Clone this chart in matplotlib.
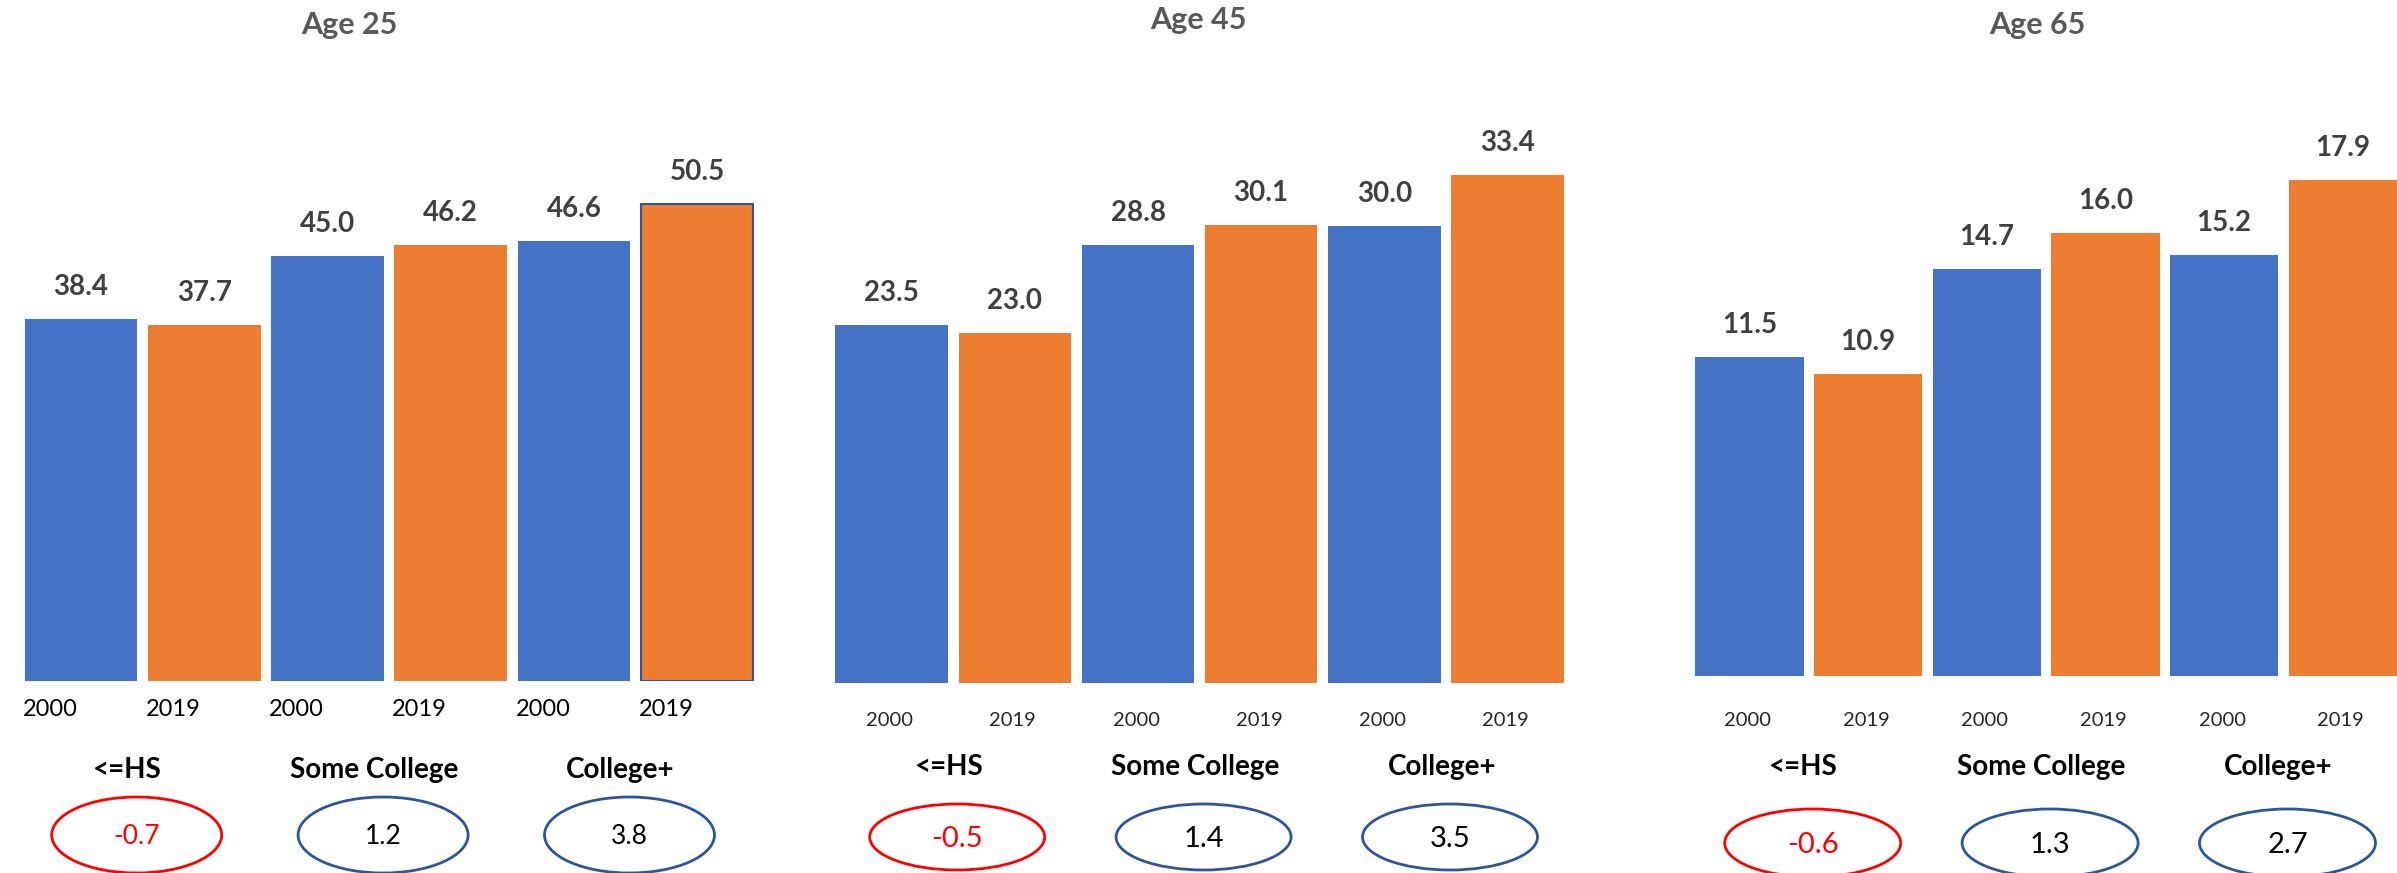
import matplotlib
matplotlib.use("Agg")
import matplotlib.pyplot as plt
import matplotlib.transforms as mtransforms
from matplotlib.patches import Ellipse

plt.rcParams["font.family"] = ["Lato", "DejaVu Sans"]

W, H, DPI = 2397, 873, 100

age_titles = ["Age 25", "Age 45", "Age 65"]
education = ["<=HS", "Some College", "College+"]
years = ["2000", "2019"]

age25_2000 = [38.4, 45.0, 46.6]
age25_2019 = [37.7, 46.2, 50.5]
age45_2000 = [23.5, 28.8, 30.0]
age45_2019 = [23.0, 30.1, 33.4]
age65_2000 = [11.5, 14.7, 15.2]
age65_2019 = [10.9, 16.0, 17.9]

age25_change = [-0.7, 1.2, 3.8]
age45_change = [-0.5, 1.4, 3.5]
age65_change = [-0.6, 1.3, 2.7]

BLUE = "#4472C4"
ORANGE = "#ED7D31"
NAVY = "#2F5597"
RED = "#FF0000"
VALUE_GREY = "#404040"
TITLE_GREY = "#595959"

# layout of each panel in pixels: first slot edge, slot width, baseline, px per unit,
# plus offsets for the text rows below the bars
panels = [
    dict(left=19.5, step=123.2, base=681, scale=9.44, title_dx=-40, title_dy=25,
         year_dx=-31, year_dy=28, year_size=17, year_color="black",
         cat_dx=-15, cat_dy=89, ell_dx=-6, ell_dy=154, ell_w=170, ell_h=76,
         chg_size=19),
    dict(left=830.0, step=123.2, base=683, scale=15.22, title_dx=-1, title_dy=20,
         year_dx=-2, year_dy=37, year_size=14.5, year_color="#262626",
         cat_dx=-4, cat_dy=84, ell_dx=4, ell_dy=154, ell_w=175, ell_h=66,
         chg_size=21),
    dict(left=1690.0, step=118.7, base=676, scale=27.7, title_dx=-9, title_dy=25,
         year_dx=-2, year_dy=44, year_size=14.5, year_color="#262626",
         cat_dx=-5, cat_dy=91, ell_dx=4, ell_dy=167, ell_w=176, ell_h=68,
         chg_size=21),
]

series = [
    (age25_2000, age25_2019, age25_change),
    (age45_2000, age45_2019, age45_change),
    (age65_2000, age65_2019, age65_change),
]

fig = plt.figure(figsize=(W / DPI, H / DPI), dpi=DPI)

for title, (v2000, v2019, change), p in zip(age_titles, series, panels):
    ax = fig.add_axes([p["left"] / W, (H - p["base"]) / H,
                       6 * p["step"] / W, p["base"] / H])
    ax.axis("off")

    heights, colors, labels = [], [], []
    for a, b in zip(v2000, v2019):
        heights += [a, b]
        colors += [BLUE, ORANGE]
        labels += years
    xs = list(range(len(heights)))

    bars = ax.bar(xs, heights, width=0.913, color=colors, linewidth=0)
    if title == "Age 25":
        bars[-1].set_edgecolor(NAVY)
        bars[-1].set_linewidth(1.5)

    for x, h, yr in zip(xs, heights, labels):
        ax.annotate(f"{h:.1f}", (x, h), xytext=(0, 32), textcoords="offset pixels",
                    ha="center", va="center", fontsize=20, fontweight="bold",
                    color=VALUE_GREY)
        ax.annotate(yr, (x, 0), xytext=(p["year_dx"], -p["year_dy"]),
                    textcoords="offset pixels", ha="center", va="center",
                    fontsize=p["year_size"], color=p["year_color"])

    trans = mtransforms.blended_transform_factory(ax.transData, ax.transAxes)
    for i, (name, c) in enumerate(zip(education, change)):
        gx = 2 * i + 0.5
        ax.annotate(name, (gx, 0), xytext=(p["cat_dx"], -p["cat_dy"]),
                    textcoords="offset pixels", ha="center", va="center",
                    fontsize=20, fontweight="bold", color="black")
        ex = gx + p["ell_dx"] / p["step"]
        edge = RED if c < 0 else NAVY
        ax.add_patch(Ellipse((ex, -p["ell_dy"] / p["base"]),
                             width=p["ell_w"] / p["step"],
                             height=p["ell_h"] / p["base"],
                             transform=trans, fill=False, edgecolor=edge,
                             linewidth=2, clip_on=False))
        ax.annotate(f"{c:.1f}", (ex, 0), xytext=(0, -p["ell_dy"] - 2),
                    textcoords="offset pixels", ha="center", va="center",
                    fontsize=p["chg_size"], color=RED if c < 0 else "black")

    ax.annotate(title, (0.5, 1), xycoords="axes fraction",
                xytext=(p["title_dx"], -p["title_dy"]), textcoords="offset pixels",
                ha="center", va="center", fontsize=22, fontweight="bold",
                color=TITLE_GREY)

    ax.set_xlim(-0.5, 5.5)
    ax.set_ylim(0, p["base"] / p["scale"])

fig.savefig("out.png", dpi=DPI)
